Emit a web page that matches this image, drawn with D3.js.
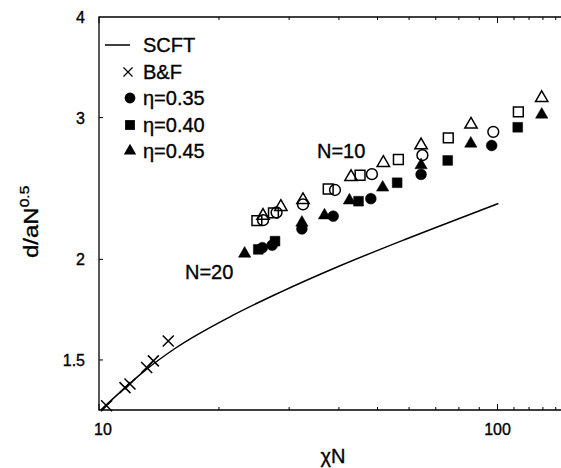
<!DOCTYPE html>
<html>
<head>
<meta charset="utf-8">
<script src="https://cdn.jsdelivr.net/npm/d3@7"></script>
<style>
  html, body { margin: 0; padding: 0; background: #fff; }
  svg { display: block; font-family: "Liberation Sans", Arial, sans-serif; }
  svg text { fill: #000; stroke: #000; stroke-width: 0.35px; }
</style>
</head>
<body>
<svg id="chart" width="561" height="468"></svg>
<script>
// SCFT prediction (solid curve)
const scftX = [10.1, 11.73, 13.17, 15.51, 21.7, 28.46, 40.0, 58.6, 69.0, 100.5];
const scftY = [1.300, 1.391, 1.461, 1.550, 1.705, 1.820, 1.961, 2.117, 2.185, 2.347];

// B&F results (crosses)
const bfX = [10.45, 11.62, 11.96, 13.17, 13.69, 14.92];
const bfY = [1.316, 1.386, 1.400, 1.468, 1.496, 1.584];

// eta = 0.35 (circles); filled N=20, open N=10
const e35N20X = [25.7, 27.2, 32.3, 38.7, 48.1, 64.3, 96.7];
const e35N20Y = [2.068, 2.083, 2.182, 2.263, 2.379, 2.550, 2.770];
const e35N10X = [25.8, 27.9, 32.5, 39.1, 48.4, 64.8, 97.6];
const e35N10Y = [2.237, 2.287, 2.340, 2.439, 2.552, 2.694, 2.880];

// eta = 0.40 (squares)
const e40N20X = [25.1, 27.65, 44.8, 56.0, 75.0, 112.4];
const e40N20Y = [2.058, 2.107, 2.362, 2.490, 2.654, 2.918];
const e40N10X = [24.9, 27.4, 37.6, 45.2, 56.4, 75.25, 112.8];
const e40N10Y = [2.235, 2.285, 2.446, 2.544, 2.661, 2.831, 3.050];

// eta = 0.45 (triangles)
const e45N20X = [23.2, 32.3, 36.8, 42.5, 51.5, 64.3, 85.7, 129.1];
const e45N20Y = [2.033, 2.221, 2.268, 2.367, 2.456, 2.618, 2.785, 3.026];
const e45N10X = [25.8, 28.6, 32.5, 42.9, 51.7, 64.3, 85.8, 129.1];
const e45N10Y = [2.266, 2.324, 2.370, 2.532, 2.636, 2.772, 2.941, 3.174];

const xMajor = [10, 100];
const xMinor = [20, 30, 40, 50, 60, 70, 80, 90, 110, 120, 130, 140];
const yTicks = [1.5, 2, 3, 4];
const legendLabels = ["SCFT", "B&F", "η=0.35", "η=0.40", "η=0.45"];

const svg = d3.select("#chart");
const plotLeft = 99, plotTop = 17, plotBottom = 410;
const x = d3.scaleLog().domain([10, 150]).range([plotLeft, plotLeft + 398.5 * Math.log10(15)]);
const y = d3.scaleLog().domain([1.3, 4]).range([plotBottom, plotTop]);
const plotRight = x.range()[1];

const zip = (xs, ys) => xs.map((v, i) => [v, ys[i]]);

// frame
svg.append("path")
  .attr("d", `M${plotRight},${plotTop}H${plotLeft}V${plotBottom}H${plotRight}`)
  .attr("fill", "none").attr("stroke", "#000").attr("stroke-width", 1.3);

// x ticks, pointing inward on bottom and top
const xAxisG = svg.append("g");
function xTick(v, len) {
  xAxisG.append("line").attr("x1", x(v)).attr("x2", x(v)).attr("y1", plotBottom).attr("y2", plotBottom - len)
    .attr("stroke", "#000").attr("stroke-width", 1);
  xAxisG.append("line").attr("x1", x(v)).attr("x2", x(v)).attr("y1", plotTop).attr("y2", plotTop + len)
    .attr("stroke", "#000").attr("stroke-width", 1);
}
xMinor.forEach(v => xTick(v, 3));
xMajor.forEach(v => {
  xTick(v, 6);
  xAxisG.append("text").attr("x", x(v) + (v === 10 ? 4 : 0)).attr("y", plotBottom + 25)
    .attr("text-anchor", "middle").attr("font-size", 16).text(v);
});

// y ticks
yTicks.forEach(v => {
  if (v < 4) {
    svg.append("line").attr("x1", plotLeft).attr("x2", plotLeft + 4).attr("y1", y(v)).attr("y2", y(v))
      .attr("stroke", "#000").attr("stroke-width", 1);
  }
  svg.append("text").attr("x", 85).attr("y", y(v)).attr("dy", "0.38em")
    .attr("text-anchor", "end").attr("font-size", 16).text(v);
});

// axis titles
svg.append("text").attr("x", 333).attr("y", 463).attr("text-anchor", "middle")
  .attr("font-size", 20).text("χN");
const yt = svg.append("text")
  .attr("transform", "translate(38,258) rotate(-90) scale(1.2,1)")
  .attr("font-size", 20);
yt.append("tspan").text("d/aN");
yt.append("tspan").attr("dy", -9).attr("font-size", 13).text("0.5");

// SCFT curve
const line = d3.line().x(d => x(d[0])).y(d => y(d[1])).curve(d3.curveMonotoneX);
svg.append("path").datum(zip(scftX, scftY)).attr("d", line)
  .attr("fill", "none").attr("stroke", "#000").attr("stroke-width", 1.5);

// markers
const shapes = {
  circle: d3.symbol().type(d3.symbolCircle).size(Math.PI * 5.4 * 5.4),
  square: d3.symbol().type(d3.symbolSquare).size(96),
  triangle: d3.symbol().type(d3.symbolTriangle).size(66)
};
function drawMarkers(pts, shape, filled) {
  svg.append("g").selectAll("path").data(pts).join("path")
    .attr("transform", d => `translate(${x(d[0])},${y(d[1])})`)
    .attr("d", shapes[shape]())
    .attr("fill", filled ? "#000" : "none")
    .attr("stroke", "#000").attr("stroke-width", filled ? 0.5 : 1.5);
}
drawMarkers(zip(e35N10X, e35N10Y), "circle", false);
drawMarkers(zip(e40N10X, e40N10Y), "square", false);
drawMarkers(zip(e45N10X, e45N10Y), "triangle", false);
drawMarkers(zip(e35N20X, e35N20Y), "circle", true);
drawMarkers(zip(e40N20X, e40N20Y), "square", true);
drawMarkers(zip(e45N20X, e45N20Y), "triangle", true);

// B&F crosses
svg.append("g").selectAll("path").data(zip(bfX, bfY)).join("path")
  .attr("d", d => { const cx = x(d[0]), cy = y(d[1]), s = 5.5;
    return `M${cx - s},${cy - s}L${cx + s},${cy + s}M${cx - s},${cy + s}L${cx + s},${cy - s}`; })
  .attr("stroke", "#000").attr("stroke-width", 1.5).attr("fill", "none");

// annotations
svg.append("text").attr("x", 317).attr("y", 158).attr("font-size", 20).text("N=10");
svg.append("text").attr("x", 185).attr("y", 279).attr("font-size", 20).text("N=20");

// legend
const lg = svg.append("g");
const rowY = [45, 72, 98, 125, 151];
lg.append("line").attr("x1", 105).attr("x2", 130).attr("y1", rowY[0]).attr("y2", rowY[0])
  .attr("stroke", "#000").attr("stroke-width", 1.5);
{
  const cx = 128, cy = rowY[1], s = 4.5;
  lg.append("path").attr("d", `M${cx - s},${cy - s}L${cx + s},${cy + s}M${cx - s},${cy + s}L${cx + s},${cy - s}`)
    .attr("stroke", "#000").attr("stroke-width", 1.3);
}
["circle", "square", "triangle"].forEach((s, i) => {
  lg.append("path").attr("transform", `translate(130,${rowY[i + 2]})`)
    .attr("d", shapes[s]()).attr("fill", "#000");
});
legendLabels.forEach((t, i) => {
  lg.append("text").attr("x", 143).attr("y", rowY[i]).attr("dy", "0.36em")
    .attr("font-size", 20).text(t);
});
</script>
</body>
</html>
